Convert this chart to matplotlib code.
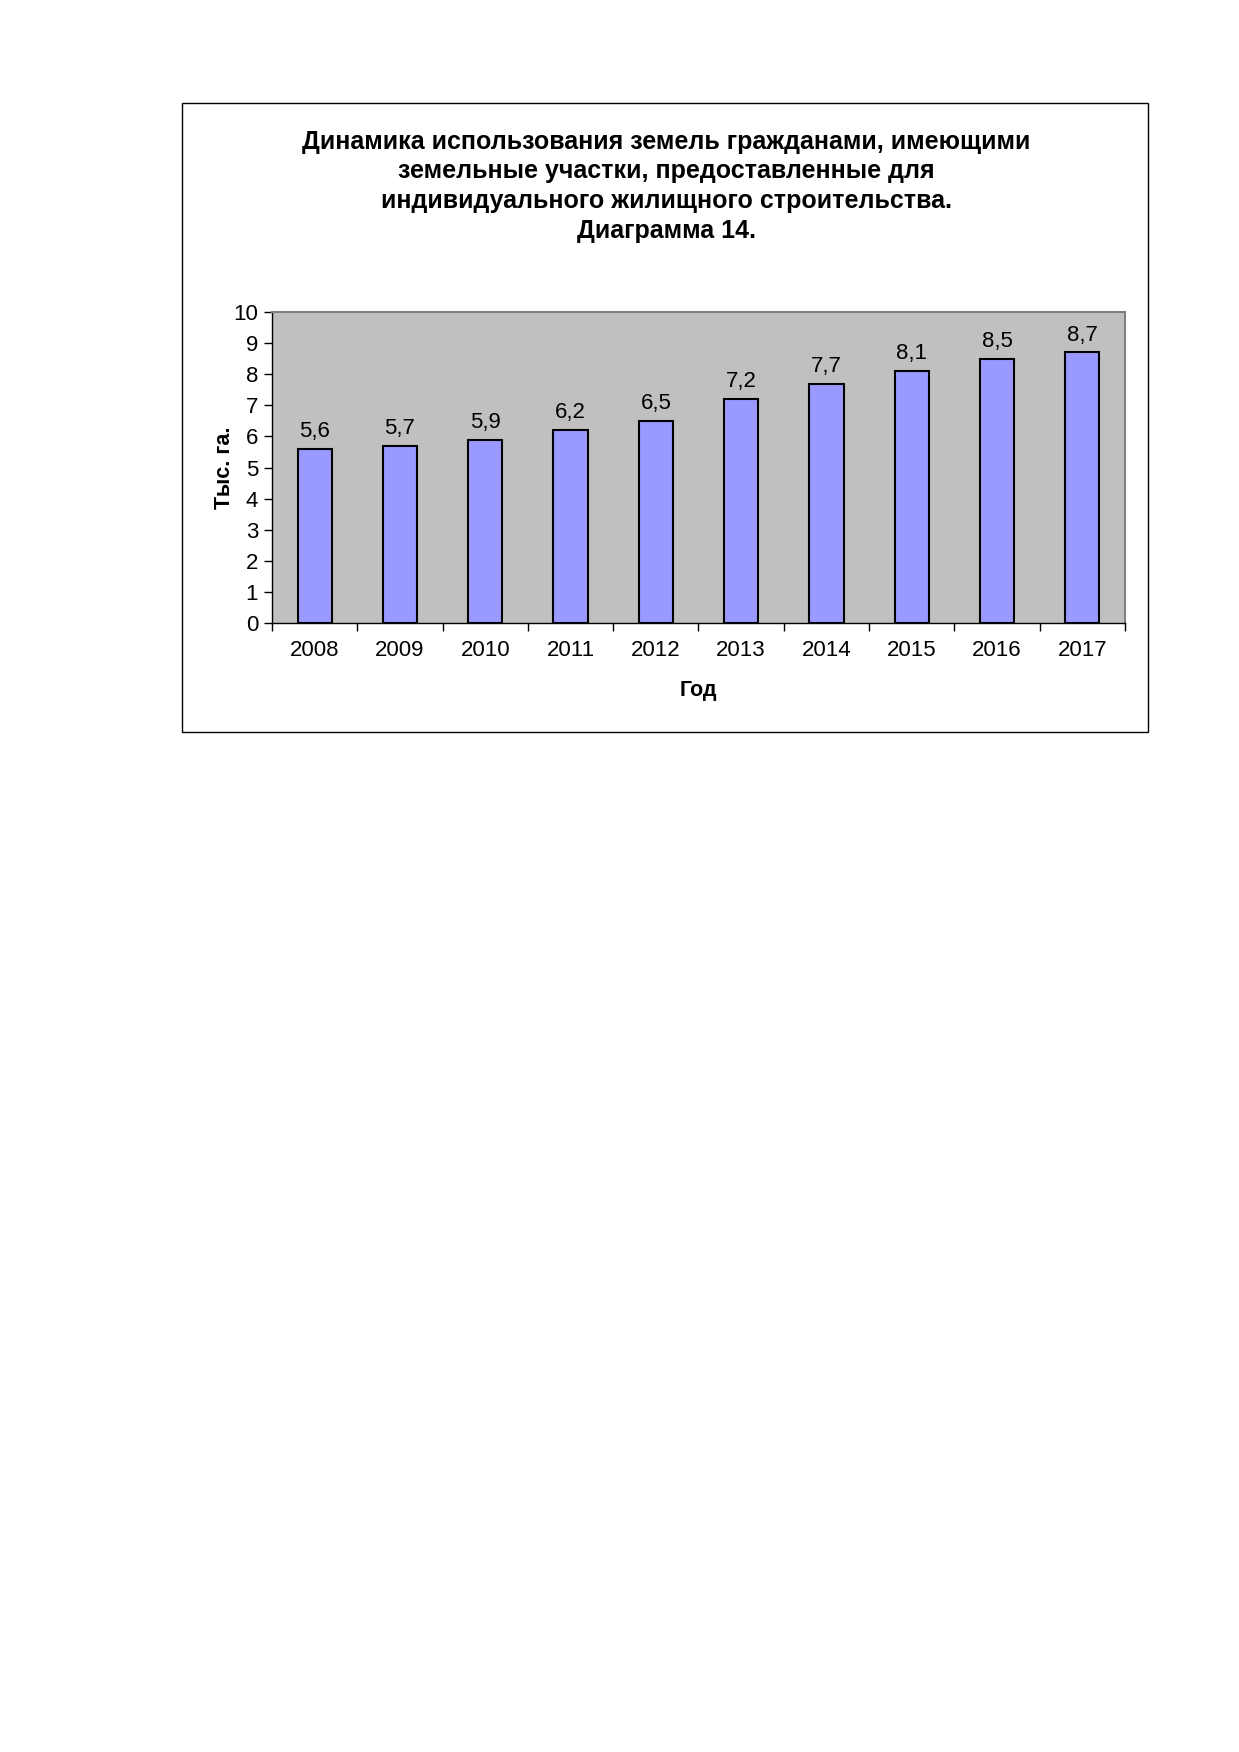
import matplotlib.pyplot as plt
from matplotlib.patches import Rectangle

plt.rcParams['font.family'] = ['Liberation Sans', 'DejaVu Sans']

years = ['2008', '2009', '2010', '2011', '2012', '2013', '2014', '2015', '2016', '2017']
values = [5.6, 5.7, 5.9, 6.2, 6.5, 7.2, 7.7, 8.1, 8.5, 8.7]
yticks = [0, 1, 2, 3, 4, 5, 6, 7, 8, 9, 10]

title = ('Динамика использования земель гражданами, имеющими\n'
         'земельные участки, предоставленные для\n'
         'индивидуального жилищного строительства.\n'
         'Диаграмма 14.')

fig = plt.figure(figsize=(12.39, 17.52), dpi=100)

# outer chart frame
fig.patches.append(Rectangle((0.1469, 0.5822), 0.7797, 0.3590, transform=fig.transFigure,
                             fill=False, edgecolor='black', linewidth=1.0))

ax = fig.add_axes([0.2195, 0.6444, 0.6885, 0.1775])
ax.set_facecolor('#C0C0C0')

x = list(range(len(years)))
bars = ax.bar(x, values, width=0.4, color='#9999FF', edgecolor='black', linewidth=1.5, zorder=3)

for xi, v in zip(x, values):
    ax.annotate(f'{v:.1f}'.replace('.', ','), (xi, v), xytext=(0, 5), textcoords='offset points',
                ha='center', va='bottom', fontsize=16)

ax.set_xlim(-0.5, len(years) - 0.5)
ax.set_ylim(0, 10)
ax.set_yticks(yticks)
ax.set_yticklabels([str(t) for t in yticks], fontsize=16)
ax.set_xticks(x)
ax.set_xticklabels(years, fontsize=16)
ax.tick_params(axis='x', length=0, pad=12)
ax.set_xticks([i - 0.5 for i in range(len(years) + 1)], minor=True)
ax.tick_params(axis='x', which='minor', length=6, width=1, direction='out')
ax.tick_params(axis='y', length=6, width=1, direction='out', pad=4)

for side in ['top', 'right']:
    ax.spines[side].set_color('#808080')
    ax.spines[side].set_linewidth(1.5)
for side in ['left', 'bottom']:
    ax.spines[side].set_color('black')
    ax.spines[side].set_linewidth(1.0)

ax.set_ylabel('Тыс. га.', fontsize=15.5, fontweight='bold', labelpad=-1)
ax.set_xlabel('Год', fontsize=15.5, fontweight='bold', labelpad=14)

fig.text(0.538, 0.8938, title, ha='center', va='center', fontsize=18, fontweight='bold',
         linespacing=1.3)

fig.savefig('out.png', dpi=100)
